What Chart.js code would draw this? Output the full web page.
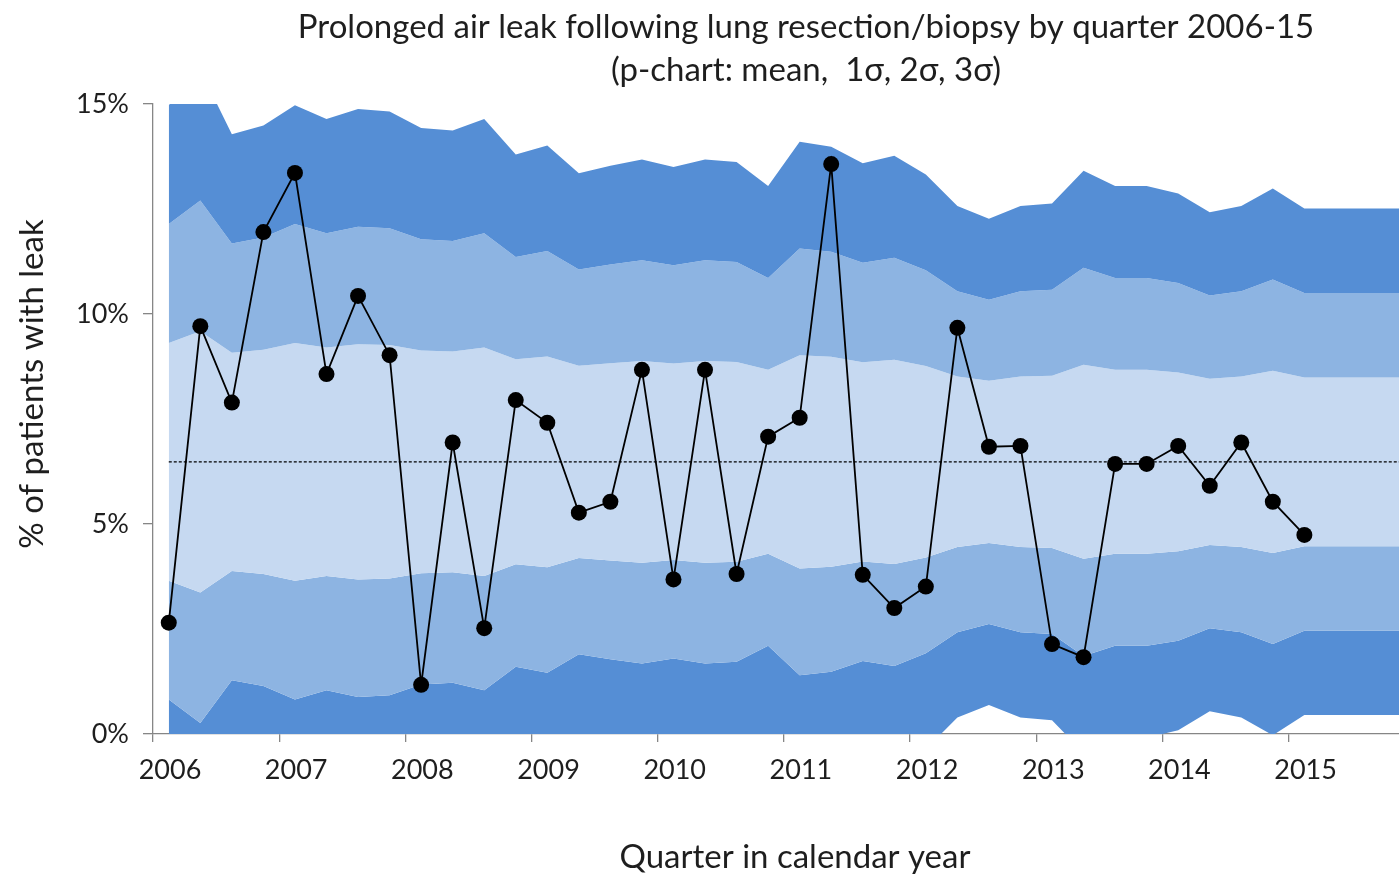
<!DOCTYPE html>
<html>
<head>
<meta charset="utf-8">
<script src="https://cdn.jsdelivr.net/npm/chart.js@4.4.0/dist/chart.umd.min.js"></script>
<style>
  html, body { margin: 0; padding: 0; background: #fff; overflow: hidden; }
  #wrap { width: 1399px; height: 876px; position: relative; }
</style>
</head>
<body>
<div id="wrap"><canvas id="pChart"></canvas></div>
<script>
// quarters on the x axis
const quarters = [
  '2006 Q1', '2006 Q2', '2006 Q3', '2006 Q4', '2007 Q1', '2007 Q2', '2007 Q3', '2007 Q4',
  '2008 Q1', '2008 Q2', '2008 Q3', '2008 Q4', '2009 Q1', '2009 Q2', '2009 Q3', '2009 Q4',
  '2010 Q1', '2010 Q2', '2010 Q3', '2010 Q4', '2011 Q1', '2011 Q2', '2011 Q3', '2011 Q4',
  '2012 Q1', '2012 Q2', '2012 Q3', '2012 Q4', '2013 Q1', '2013 Q2', '2013 Q3', '2013 Q4',
  '2014 Q1', '2014 Q2', '2014 Q3', '2014 Q4', '2015 Q1', '2015 Q2', '2015 Q3', '2015 Q4'
];
const yearLabels = ['2006', '2007', '2008', '2009', '2010', '2011', '2012', '2013', '2014', '2015'];
const yTicks = [0, 5, 10, 15];

// % of patients with prolonged air leak (2006 Q1 .. 2015 Q1)
const leakPct = [
  2.65, 9.71, 7.89, 11.95, 13.36, 8.57, 10.43, 9.02,
  1.17, 6.94, 2.52, 7.95, 7.41, 5.27, 5.53, 8.67,
  3.68, 8.67, 3.81, 7.08, 7.53, 13.57, 3.79, 3.00,
  3.51, 9.67, 6.84, 6.86, 2.14, 1.83, 6.43, 6.43,
  6.86, 5.91, 6.94, 5.53, 4.74
];

// overall mean (%)
const meanPct = 6.48;

// one sigma per quarter (%), width of each control band
const sigma = [
  2.83, 3.11, 2.60, 2.67, 2.83, 2.72, 2.80, 2.78,
  2.65, 2.63, 2.72, 2.44, 2.51, 2.29, 2.35, 2.40,
  2.34, 2.40, 2.38, 2.19, 2.54, 2.50, 2.37, 2.43,
  2.28, 2.03, 1.93, 2.03, 2.05, 2.31, 2.19, 2.19,
  2.13, 1.98, 2.03, 2.17, 2.01, 2.01, 2.01, 2.01
];

const titleLines = ['Prolonged air leak following lung resection/biopsy by quarter 2006-15',
                    '(p-chart: mean,  1\u03c3, 2\u03c3, 3\u03c3)'];
const xTitle = 'Quarter in calendar year';
const yTitle = '% of patients with leak';

const dark = '#558ED5', mid = '#8DB4E2', light = '#C6D9F1';
const axisGrey = '#868686', textCol = '#1e1e1e';
const fontFamily = 'Lato, "Open Sans", sans-serif';

const band = k => quarters.map((q, i) => ({ x: i, y: meanPct + k * sigma[i] }));
const bandSet = (k, color) => ({
    data: band(k),
    borderWidth: 0,
    pointRadius: 0,
    tension: 0,
    fill: color ? { target: '+1' } : false,
    backgroundColor: color || 'transparent'
});

// titles drawn by hand so they can sit where the original put them
const chartText = {
    id: 'chartText',
    afterDraw(chart) {
        const c = chart.ctx;
        c.save();
        c.fillStyle = textCol;
        c.textAlign = 'center';
        c.textBaseline = 'middle';
        c.font = '33px ' + fontFamily;
        c.fillText(titleLines[0], 806, 27);
        c.fillText(titleLines[1], 806, 70);
        c.font = '33px ' + fontFamily;
        c.fillText(xTitle, 795, 857);
        c.translate(32, 384);
        c.rotate(-Math.PI / 2);
        c.fillText(yTitle, 0, 0);
        c.restore();
    }
};

new Chart(document.getElementById('pChart'), {
    type: 'line',
    data: {
        datasets: [
            {
                data: leakPct.map((v, i) => ({ x: i, y: v })),
                borderColor: '#000',
                borderWidth: 1.8,
                pointRadius: 8,
                pointBackgroundColor: '#000',
                pointBorderWidth: 0,
                tension: 0,
                fill: false
            },
            {
                data: quarters.map((q, i) => ({ x: i, y: meanPct })),
                borderColor: '#000',
                borderWidth: 1.4,
                borderDash: [3, 2],
                pointRadius: 0,
                fill: false
            },
            bandSet(3, dark),
            bandSet(2, mid),
            bandSet(1, light),
            bandSet(-1, mid),
            bandSet(-2, dark),
            bandSet(-3, null)
        ]
    },
    options: {
        responsive: true,
        maintainAspectRatio: false,
        animation: false,
        layout: { autoPadding: false, padding: { top: 104, right: 0, bottom: 0, left: 0 } },
        plugins: {
            legend: { display: false },
            tooltip: { enabled: false },
            title: { display: false }
        },
        scales: {
            x: {
                type: 'linear',
                min: -0.5,
                max: 39,
                afterBuildTicks: s => { s.ticks = yearLabels.map((y, i) => ({ value: i * 4 - 0.5 })); },
                afterFit: s => { s.height = 142; },
                ticks: {
                    callback: (v, i) => yearLabels[i],
                    autoSkip: false,
                    maxRotation: 0,
                    labelOffset: 17,
                    padding: 12,
                    color: textCol,
                    font: { family: fontFamily, size: 27 }
                },
                grid: { drawOnChartArea: false, tickLength: 8, color: axisGrey, lineWidth: 1.3 },
                border: { color: axisGrey, width: 1.3 }
            },
            y: {
                min: 0,
                max: 15,
                afterBuildTicks: s => { s.ticks = yTicks.map(v => ({ value: v })); },
                afterFit: s => { s.width = 153; },
                ticks: {
                    callback: v => v + '%',
                    padding: 14,
                    color: textCol,
                    font: { family: fontFamily, size: 27 }
                },
                grid: { drawOnChartArea: false, tickLength: 10, color: axisGrey, lineWidth: 1.3 },
                border: { color: axisGrey, width: 1.3 }
            }
        }
    },
    plugins: [chartText]
});
</script>
</body>
</html>
